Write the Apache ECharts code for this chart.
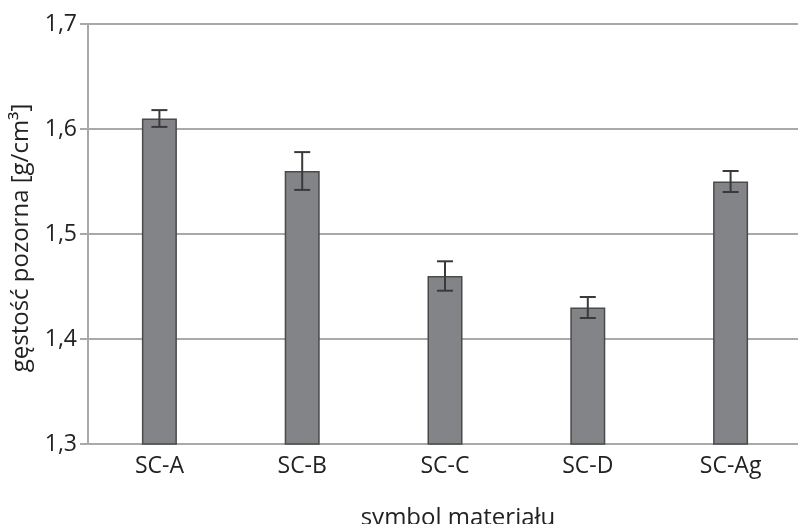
<!DOCTYPE html>
<html>
<head>
<meta charset="utf-8">
<script src="https://cdn.jsdelivr.net/npm/echarts@6/dist/echarts.min.js"></script>
<style>
  html, body { margin: 0; padding: 0; background: #fff; }
  #chart { width: 798px; height: 524px; }
</style>
</head>
<body>
<div id="chart"></div>
<script>
// materiały i gęstość pozorna
const categories = ['SC-A', 'SC-B', 'SC-C', 'SC-D', 'SC-Ag']
const densityValues = [1.61, 1.56, 1.46, 1.43, 1.55]
const densityErrors = [0.008, 0.018, 0.014, 0.010, 0.010]
const yTicks = [1.3, 1.4, 1.5, 1.6, 1.7]

const font = '"Open Sans", "Noto Sans", sans-serif'
const gridColor = '#a9a9a9'

const chart = echarts.init(document.getElementById('chart'))

const errorData = densityValues.map((v, i) => [i, v - densityErrors[i], v + densityErrors[i]])

const option = {
  animation: false,
  grid: { left: 88, right: -4, top: 24, bottom: 80, outerBoundsMode: 'none', containLabel: false },
  xAxis: {
    type: 'category',
    data: categories,
    name: 'symbol materiału',
    nameLocation: 'middle',
    nameGap: 62,
    nameTextStyle: { fontFamily: font, fontSize: 24, color: '#222', padding: [0, 0, 0, 26] },
    axisLine: { lineStyle: { color: gridColor, width: 2 } },
    axisTick: { show: false },
    axisLabel: { fontFamily: font, fontSize: 23, color: '#222', margin: 11 }
  },
  yAxis: {
    type: 'value',
    min: yTicks[0],
    max: yTicks[yTicks.length - 1],
    interval: 0.1,
    name: 'gęstość pozorna [g/cm³]',
    nameLocation: 'middle',
    nameGap: 55,
    nameTextStyle: { fontFamily: font, fontSize: 24, color: '#222', padding: [0, 8, 0, 0] },
    axisLine: { show: true, lineStyle: { color: gridColor, width: 2 } },
    axisTick: { show: true, length: 8, lineStyle: { color: gridColor, width: 2 } },
    axisLabel: {
      fontFamily: font, fontSize: 23, color: '#222', margin: 11,
      formatter: v => v.toFixed(1).replace('.', ',')
    },
    splitLine: { lineStyle: { color: gridColor, width: 2 } }
  },
  series: [
    {
      type: 'bar',
      data: densityValues,
      barWidth: 35,
      itemStyle: { color: '#838488', borderColor: '#4a4a4a', borderWidth: 1.5 }
    },
    {
      type: 'custom',
      data: errorData,
      z: 10,
      renderItem: function (params, api) {
        const lo = api.coord([api.value(0), api.value(1)])
        const hi = api.coord([api.value(0), api.value(2)])
        const half = 8
        const style = { stroke: '#3a3a3a', lineWidth: 2 }
        return {
          type: 'group',
          children: [
            { type: 'line', shape: { x1: hi[0], y1: hi[1], x2: lo[0], y2: lo[1] }, style },
            { type: 'line', shape: { x1: hi[0] - half, y1: hi[1], x2: hi[0] + half, y2: hi[1] }, style },
            { type: 'line', shape: { x1: lo[0] - half, y1: lo[1], x2: lo[0] + half, y2: lo[1] }, style }
          ]
        }
      }
    }
  ]
}

chart.setOption(option)
</script>
</body>
</html>
